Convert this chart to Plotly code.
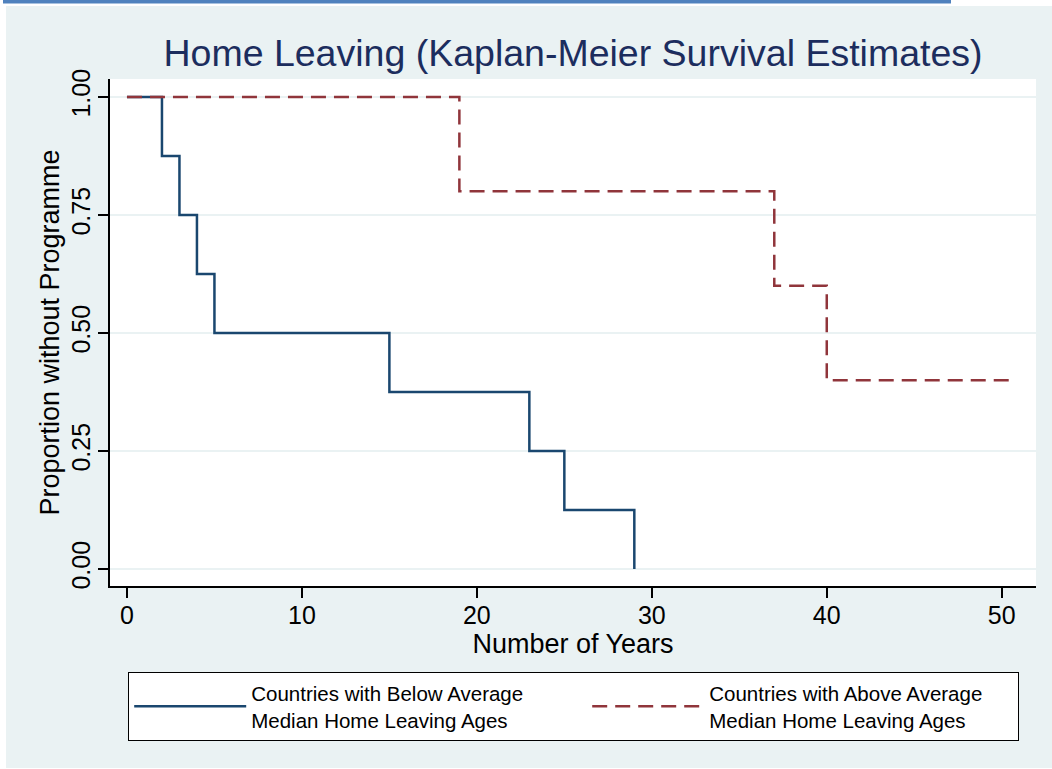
import plotly.graph_objects as go

# Kaplan-Meier step estimates for the two country groups
below_years = [0, 2, 3, 4, 5, 15, 23, 25, 29]
below_surv = [1.0, 0.875, 0.75, 0.625, 0.5, 0.375, 0.25, 0.125, 0.0]

above_years = [0, 19, 37, 40, 50.6]
above_surv = [1.0, 0.8, 0.6, 0.4, 0.4]

below_name = "Countries with Below Average<br>Median Home Leaving Ages"
above_name = "Countries with Above Average<br>Median Home Leaving Ages"

x_ticks = [0, 10, 20, 30, 40, 50]
y_ticks = [0.0, 0.25, 0.5, 0.75, 1.0]
y_tick_text = ["0.00", "0.25", "0.50", "0.75", "1.00"]

W, H = 1052, 769
ML, MR, MT, MB = 110, 16, 79, 183
PW, PH = W - ML - MR, H - MT - MB

BG = "#EAF2F3"
NAVY = "#1A476F"
MAROON = "#90353B"
FONT = "Liberation Sans, Arial, Helvetica, sans-serif"


def px_x(p):
    return (p - ML) / PW


def px_y(p):
    return (H - MB - p) / PH


fig = go.Figure()
fig.add_trace(go.Scatter(
    x=below_years, y=below_surv, mode="lines", line_shape="hv",
    line=dict(color=NAVY, width=2.5), name=below_name,
    legendwidth=331,
))
fig.add_trace(go.Scatter(
    x=above_years, y=above_surv, mode="lines", line_shape="hv",
    line=dict(color=MAROON, width=2.5, dash="15px,8px"), name=above_name,
    legendwidth=303,
))

shapes = [
    # white page edges around the graph region
    dict(type="rect", xref="paper", yref="paper", x0=px_x(0), x1=px_x(W),
         y0=px_y(6), y1=px_y(0), fillcolor="white", line_width=0, layer="below"),
    dict(type="rect", xref="paper", yref="paper", x0=px_x(0), x1=px_x(6),
         y0=px_y(H), y1=px_y(0), fillcolor="white", line_width=0, layer="below"),
    dict(type="rect", xref="paper", yref="paper", x0=px_x(0), x1=px_x(W),
         y0=px_y(H), y1=px_y(768), fillcolor="white", line_width=0, layer="below"),
    # heading rule above the graph
    dict(type="rect", xref="paper", yref="paper", x0=px_x(3), x1=px_x(951),
         y0=px_y(3.5), y1=px_y(0), fillcolor="#4F81BD", line_width=0),
]

fig.update_layout(
    width=W, height=H,
    margin=dict(l=ML, r=MR, t=MT, b=MB, pad=0, autoexpand=False),
    paper_bgcolor=BG, plot_bgcolor="white",
    font=dict(family=FONT, color="black"),
    title=dict(
        text="Home Leaving (Kaplan-Meier Survival Estimates)",
        font=dict(size=37.5, color="#1C2D5E", family=FONT),
        x=0.5, xref="paper", xanchor="center",
        y=1 - 53 / H, yref="container", yanchor="middle",
    ),
    xaxis=dict(
        range=[-0.97, 51.96], tickvals=x_ticks,
        showgrid=False, zeroline=False,
        showline=True, linecolor="black", linewidth=1.5,
        ticks="outside", ticklen=10, tickwidth=1.5, tickcolor="black",
        tickfont=dict(size=25, family=FONT), ticklabelstandoff=-4,
        title=dict(text="Number of Years", font=dict(size=27, family=FONT), standoff=0),
    ),
    yaxis=dict(
        range=[-0.036, 1.038], tickvals=y_ticks, ticktext=y_tick_text,
        tickangle=-90,
        showgrid=True, gridcolor=BG, gridwidth=2, zeroline=False,
        showline=True, linecolor="black", linewidth=1.5,
        ticks="outside", ticklen=10, tickwidth=1.5, tickcolor="black",
        tickfont=dict(size=25, family=FONT), ticklabelstandoff=-2,
        title=dict(text="Proportion without Programme", font=dict(size=27, family=FONT), standoff=0),
    ),
    legend=dict(
        orientation="h",
        x=px_x(128), xanchor="left", y=px_y(672), yanchor="top",
        bgcolor="white", bordercolor="black", borderwidth=1.2,
        font=dict(size=20.5, family=FONT, color="black"),
        itemwidth=112, entrywidthmode="pixels",
        tracegroupgap=0, valign="middle",
    ),
    shapes=shapes,
    showlegend=True,
)

fig.write_html("out.html")
